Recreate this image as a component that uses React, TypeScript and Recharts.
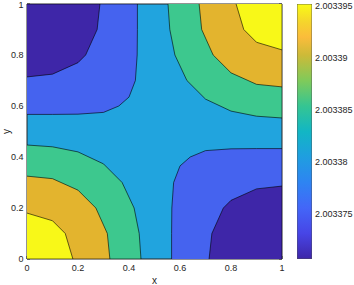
import {
  ComposedChart,
  Scatter,
  XAxis,
  YAxis,
  CartesianGrid,
} from "recharts";

// axis ticks
const X_TICKS = [0, 0.2, 0.4, 0.6, 0.8, 1];
const Y_TICKS = [0, 0.2, 0.4, 0.6, 0.8, 1];

// colorbar
const CB_TICKS = [2.003375, 2.00338, 2.003385, 2.00339, 2.003395];
const CB_MIN = 2.0033707;
const CB_MAX = 2.0033952;
const CB_BOX = [[0, CB_MIN], [0, CB_MAX], [1, CB_MAX], [1, CB_MIN], [0, CB_MIN]];

// contour regions, [x, y] in data units, last point is the corner
const YELLOW_BL = [[0, 0.18], [0.1, 0.15], [0.15, 0.1], [0.18, 0], [0, 0]];
const ORANGE_BL = [[0, 0.325], [0.1, 0.315], [0.2, 0.27], [0.27, 0.2], [0.315, 0.1], [0.325, 0], [0, 0]];
const GREEN_BL = [[0, 0.447], [0.1, 0.44], [0.2, 0.42], [0.3, 0.373], [0.373, 0.3], [0.42, 0.2], [0.44, 0.1], [0.447, 0], [0, 0]];

const YELLOW_TR = [[0.82, 1], [0.85, 0.9], [0.9, 0.85], [1, 0.82], [1, 1]];
const ORANGE_TR = [[0.675, 1], [0.685, 0.9], [0.73, 0.8], [0.8, 0.73], [0.9, 0.685], [1, 0.675], [1, 1]];
const GREEN_TR = [[0.553, 1], [0.56, 0.9], [0.58, 0.8], [0.627, 0.7], [0.7, 0.627], [0.8, 0.58], [0.9, 0.56], [1, 0.553], [1, 1]];

const BLUE_TL = [[0, 0.567], [0.1, 0.567], [0.2, 0.568], [0.3, 0.575], [0.36, 0.6], [0.4, 0.635], [0.425, 0.7], [0.432, 0.8], [0.433, 0.9], [0.433, 1], [0, 1]];
const DARK_TL = [[0, 0.714], [0.1, 0.725], [0.2, 0.77], [0.23, 0.8], [0.275, 0.9], [0.286, 1], [0, 1]];

const BLUE_BR = [[0.567, 0], [0.567, 0.1], [0.568, 0.2], [0.575, 0.3], [0.6, 0.365], [0.64, 0.4], [0.7, 0.425], [0.8, 0.432], [0.9, 0.433], [1, 0.433], [1, 0]];
const DARK_BR = [[0.714, 0], [0.725, 0.1], [0.77, 0.2], [0.8, 0.23], [0.9, 0.275], [1, 0.286], [1, 0]];

const DARK = "#3e26a8";
const BLUE = "#4563ef";
const MID = "#21a4de";
const GREEN = "#3dc88e";
const ORANGE = "#e3b42e";
const YELLOW = "#f8f818";
const INK = "#262626";

const PARULA = [
  [0, "#3e26a8"],
  [0.1, "#4745e6"],
  [0.2, "#4366f8"],
  [0.3, "#2e84f2"],
  [0.4, "#1f9ee0"],
  [0.5, "#12b6c4"],
  [0.6, "#35c592"],
  [0.7, "#80ca5a"],
  [0.8, "#cdba38"],
  [0.87, "#fbbc3b"],
  [0.93, "#f5d52c"],
  [1, "#f9fb15"],
] as const;

// fill order: outer bands first
const REGIONS = [
  { key: "gbl", pts: GREEN_BL, color: GREEN },
  { key: "gtr", pts: GREEN_TR, color: GREEN },
  { key: "obl", pts: ORANGE_BL, color: ORANGE },
  { key: "otr", pts: ORANGE_TR, color: ORANGE },
  { key: "ybl", pts: YELLOW_BL, color: YELLOW },
  { key: "ytr", pts: YELLOW_TR, color: YELLOW },
  { key: "btl", pts: BLUE_TL, color: BLUE },
  { key: "bbr", pts: BLUE_BR, color: BLUE },
  { key: "dtl", pts: DARK_TL, color: DARK },
  { key: "dbr", pts: DARK_BR, color: DARK },
];

const toPoints = (arr: number[][]) => arr.map(([x, y]) => ({ x, y }));
const noShape = () => <g />;
const tickFont = { fontSize: 9, fill: INK };

export default function App() {
  return (
    <div
      style={{
        position: "relative",
        width: 354,
        height: 285,
        background: "#fff",
        fontFamily: "'Liberation Sans', Arial, sans-serif",
      }}
    >
      <style>{"body{margin:0}"}</style>
      <div style={{ position: "absolute", left: 0, top: 0 }}>
        <ComposedChart width={290} height={285} margin={{ top: 4, right: 8, bottom: 0, left: 0 }}>
          <CartesianGrid horizontal={false} vertical={false} fill={MID} fillOpacity={1} />
          <XAxis
            type="number"
            dataKey="x"
            domain={[0, 1]}
            ticks={X_TICKS}
            allowDataOverflow
            height={26}
            tickSize={-3}
            tickMargin={9}
            stroke={INK}
            tick={tickFont}
            label={{ value: "x", position: "insideBottom", offset: 1.5, fontSize: 10, fill: INK }}
          />
          <XAxis
            xAxisId="top"
            orientation="top"
            mirror
            type="number"
            domain={[0, 1]}
            ticks={X_TICKS}
            allowDataOverflow
            tickSize={3}
            tick={noShape}
            stroke={INK}
          />
          <YAxis
            type="number"
            dataKey="y"
            domain={[0, 1]}
            ticks={Y_TICKS}
            allowDataOverflow
            width={27}
            tickSize={-3}
            tickMargin={6.5}
            stroke={INK}
            tick={tickFont}
            label={{ value: "y", angle: -90, position: "center", dx: -7, fontSize: 10, fill: INK }}
          />
          <YAxis
            yAxisId="right"
            orientation="right"
            mirror
            type="number"
            domain={[0, 1]}
            ticks={Y_TICKS}
            allowDataOverflow
            tickSize={3}
            tick={noShape}
            stroke={INK}
          />
          {REGIONS.map((r) => (
            <Scatter
              key={r.key}
              data={toPoints(r.pts)}
              fill={r.color}
              shape={noShape}
              line={{ fill: r.color, stroke: "#000", strokeWidth: 0.6 }}
              legendType="none"
              isAnimationActive={false}
            />
          ))}
        </ComposedChart>
      </div>
      <div style={{ position: "absolute", left: 290, top: 0 }}>
        <ComposedChart width={64} height={285} margin={{ top: 4, right: 0, bottom: 26, left: 7 }}>
          <defs>
            <linearGradient id="parula" x1="0" y1="1" x2="0" y2="0">
              {PARULA.map(([o, c]) => (
                <stop key={o} offset={o} stopColor={c} />
              ))}
            </linearGradient>
          </defs>
          <XAxis type="number" dataKey="x" domain={[0, 1]} allowDataOverflow hide />
          <YAxis
            orientation="right"
            type="number"
            dataKey="y"
            domain={[CB_MIN, CB_MAX]}
            ticks={CB_TICKS}
            allowDataOverflow
            width={42}
            axisLine={false}
            tickSize={-2}
            tickMargin={5}
            stroke={INK}
            tick={tickFont}
            tickFormatter={(v: number) => String(v)}
          />
          <Scatter
            data={toPoints(CB_BOX)}
            fill="url(#parula)"
            shape={noShape}
            line={{ fill: "url(#parula)", stroke: "#505050", strokeWidth: 0.8 }}
            legendType="none"
            isAnimationActive={false}
          />
        </ComposedChart>
      </div>
    </div>
  );
}
